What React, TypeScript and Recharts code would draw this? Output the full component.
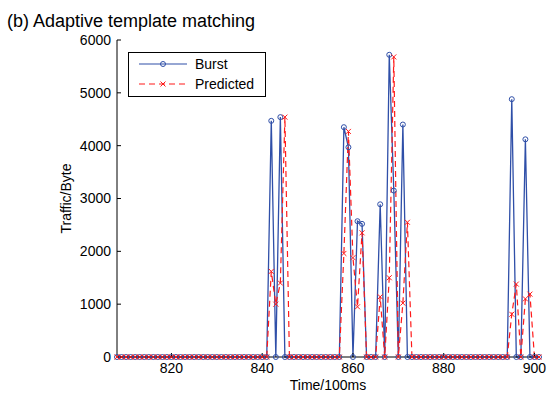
import { LineChart, Line, XAxis, YAxis } from 'recharts'

const START = 808
// traffic per 100ms slot, 808..901
const burst = [
  0, 0, 0, 0, 0, 0, 0, 0, 0, 0,
  0, 0, 0, 0, 0, 0, 0, 0, 0, 0,
  0, 0, 0, 0, 0, 0, 0, 0, 0, 0,
  0, 0, 0, 0, 4470, 0, 4540, 0, 0, 0,
  0, 0, 0, 0, 0, 0, 0, 0, 0, 0,
  4350, 3970, 0, 2570, 2520, 0, 0, 0, 2890, 0,
  5720, 3150, 0, 4400, 0, 0, 0, 0, 0, 0,
  0, 0, 0, 0, 0, 0, 0, 0, 0, 0,
  0, 0, 0, 0, 0, 0, 0, 4880, 0, 0,
  4120, 0, 0, 0,
]
const predicted = [
  0, 0, 0, 0, 0, 0, 0, 0, 0, 0,
  0, 0, 0, 0, 0, 0, 0, 0, 0, 0,
  0, 0, 0, 0, 0, 0, 0, 0, 0, 0,
  0, 0, 0, 0, 1620, 1000, 1400, 4540, 0, 0,
  0, 0, 0, 0, 0, 0, 0, 0, 0, 0,
  1960, 4270, 1880, 950, 2350, 0, 0, 0, 1140, 0,
  1500, 5680, 0, 1020, 2550, 0, 0, 0, 0, 0,
  0, 0, 0, 0, 0, 0, 0, 0, 0, 0,
  0, 0, 0, 0, 0, 0, 0, 810, 1380, 0,
  1100, 1190, 0, 0,
]
const xTicks = [820, 840, 860, 880, 900]
const yTicks = [0, 1000, 2000, 3000, 4000, 5000, 6000]

const data = burst.map((b, i) => ({ t: START + i, burst: b, predicted: predicted[i] }))

const FONT = '"Liberation Sans", Arial, sans-serif'
const BLUE = '#2f4fa8'
const RED = '#ff1a1a'

const Circle = (p: any) => (
  <circle cx={p.cx} cy={p.cy} r={2.5} fill="none" stroke={BLUE} strokeWidth={1} />
)
const Cross = (p: any) => (
  <path d={`M${p.cx - 2.5},${p.cy - 2.5}L${p.cx + 2.5},${p.cy + 2.5}M${p.cx - 2.5},${p.cy + 2.5}L${p.cx + 2.5},${p.cy - 2.5}`} stroke={RED} strokeWidth={1} />
)

function LegendBox() {
  const row = (label: string, dashed: boolean) => (
    <div style={{ display: 'flex', alignItems: 'center', height: 20 }}>
      <svg width={52} height={10} style={{ marginRight: 6 }}>
        <line x1={2} y1={5} x2={50} y2={5} stroke={dashed ? RED : BLUE} strokeWidth={1.2} strokeDasharray={dashed ? '6 4' : undefined} />
        {dashed ? <Cross cx={26} cy={5} /> : <Circle cx={26} cy={5} />}
      </svg>
      <span>{label}</span>
    </div>
  )
  return (
    <div style={{ position: 'absolute', left: 128, top: 52, zIndex: 2, border: '1px solid #000', background: '#fff', width: 138, height: 45, boxSizing: 'border-box', padding: '1px 0 0 8px', fontFamily: FONT, fontSize: 14, color: '#000' }}>
      {row('Burst', false)}
      {row('Predicted', true)}
    </div>
  )
}

const axisTick = { fill: '#000', fontSize: 14, fontFamily: FONT }

export default function App() {
  return (
    <div style={{ position: 'absolute', left: 0, top: 0, width: 547, height: 394, background: '#fff' }}>
      <div style={{ position: 'absolute', left: 7, top: 12, fontFamily: FONT, fontSize: 18, lineHeight: '18px', color: '#000', whiteSpace: 'nowrap' }}>
        (b) Adaptive template matching
      </div>
      <LineChart width={547} height={394} data={data} margin={{ top: 40, right: 8, left: 0, bottom: 0 }}>
        <XAxis
          dataKey="t"
          type="number"
          domain={[808, 901]}
          ticks={xTicks}
          height={37}
          tickSize={-4}
          tickMargin={10}
          interval={0}
          stroke="#000"
          tick={axisTick}
          label={{ value: 'Time/100ms', position: 'insideBottom', offset: 4, fill: '#000', fontSize: 14, fontFamily: FONT }}
        />
        <XAxis
          xAxisId="top"
          orientation="top"
          dataKey="t"
          type="number"
          domain={[808, 901]}
          ticks={xTicks}
          height={0}
          tickSize={-4}
          interval={0}
          stroke="#000"
          tickFormatter={() => ''}
        />
        <YAxis
          type="number"
          domain={[0, 6000]}
          ticks={yTicks}
          width={117}
          tickSize={-4}
          tickMargin={10}
          interval={0}
          stroke="#000"
          tick={axisTick}
          label={{ value: 'Traffic/Byte', angle: -90, position: 'insideLeft', offset: 66, style: { textAnchor: 'middle' }, fill: '#000', fontSize: 14, fontFamily: FONT }}
        />
        <YAxis
          yAxisId="right"
          orientation="right"
          type="number"
          domain={[0, 6000]}
          ticks={yTicks}
          width={0}
          tickSize={-4}
          interval={0}
          stroke="#000"
          tickFormatter={() => ''}
        />
        <Line dataKey="burst" name="Burst" stroke={BLUE} strokeWidth={1.3} dot={<Circle />} activeDot={false} isAnimationActive={false} />
        <Line xAxisId="top" yAxisId="right" dataKey="predicted" name="Predicted" stroke={RED} strokeWidth={1.2} strokeDasharray="6 4" dot={<Cross />} activeDot={false} isAnimationActive={false} />
      </LineChart>
      <LegendBox />
    </div>
  )
}
